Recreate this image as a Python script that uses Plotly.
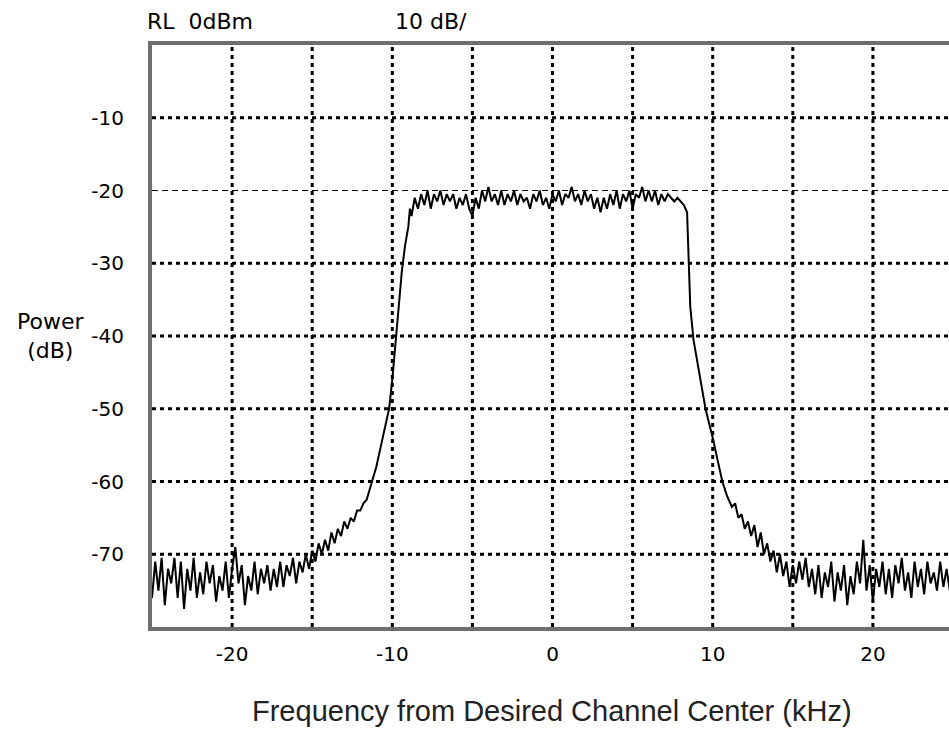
import plotly.graph_objects as go

# ---------------- data ----------------
# Left noise floor, -25.0 .. -15.0 kHz, 0.2 kHz steps
floor_left_start = -25.0
floor_left_db = [-76, -71, -75, -70.5, -77, -72, -74, -70.5, -76, -71,
                 -77.5, -72, -75, -70.5, -76, -72.5, -75.5, -71, -74, -71.5,
                 -76.5, -73, -75, -71, -76, -72, -69, -74, -71.5, -77,
                 -73, -75, -71, -75.5, -72, -74, -71.5, -75, -72, -74.5,
                 -71, -74.5, -71.5, -73, -70.5, -74, -71, -72.5, -70, -72,
                 -69.5]
# Left shoulder (noisy rise), -14.8 .. -11.6 kHz
rise_left_start = -14.8
rise_left_db = [-71, -68.5, -70, -68, -69.5, -67, -68.5, -66.5, -67.5, -65.5,
                -66.5, -65, -65.5, -64, -64, -63, -62.5]
# Left skirt (smooth filter edge)
skirt_left_khz = [-11.4, -11.2, -11.0, -10.8, -10.6, -10.4, -10.2, -10.0,
                  -9.8, -9.6, -9.4, -9.2, -9.0, -8.9]
skirt_left_db = [-61, -59.5, -58, -56, -54, -52, -50, -46,
                 -41, -35.5, -31, -27.5, -25, -22.5]
# Passband, -8.8 .. 8.2 kHz
band_start = -8.8
band_db = [-23.5, -21, -22.5, -20.5, -22, -20, -22.5, -20.5, -21.5, -20,
           -22, -20.5, -21.5, -20.5, -22.5, -21, -22, -20.5, -22.5, -23.5,
           -21, -22.5, -20, -21.5, -19.5, -21.5, -20.5, -22, -20, -22,
           -20.5, -21.5, -20, -22, -20.5, -21.5, -21, -22.5, -20.5, -21.5,
           -20, -22, -21, -22.5, -20.5,
           -21.5, -20, -22, -20.5, -21,
           -19.5, -21.5, -20.5, -22, -20,
           -21.5, -20.5, -22.5, -21, -23,
           -21, -22.5, -20.5, -22, -20,
           -22.5, -20.5, -21.5, -20, -22.5,
           -20.5, -21, -19.5, -21.5, -20,
           -21.5, -20, -22, -20.5, -21.5,
           -20.5, -21, -21.5, -21, -21.5, -22]
# Right skirt
skirt_right_khz = [8.4, 8.5, 8.6, 8.8, 9.0, 9.25, 9.55, 10.0, 10.3, 10.6, 10.9]
skirt_right_db = [-23, -30, -36, -40.5, -43, -46, -50, -54, -57, -60, -62]
# Right shoulder (noisy decay), 11.2 .. 15.0 kHz
decay_right_start = 11.2
decay_right_db = [-63.5, -63, -65, -64.5, -66.5, -65.5, -67.5, -66, -69, -67,
                  -70, -68.5, -71, -69.5, -72.5, -70, -73, -71, -74.5, -71.5]
# Right noise floor, 15.2 .. 25.0 kHz
floor_right_start = 15.2
floor_right_db = [-74, -71, -73.5, -70.5, -74.5, -72, -75.5, -71.5, -76, -72.5,
                  -74.5, -71, -76.5, -72.5, -75, -71.5, -77, -73, -75.5, -71,
                  -74, -68, -75, -71.5, -76.5, -72, -74.5, -71, -75.5, -72,
                  -76, -71.5, -74, -70.5, -75, -72.5, -76, -71, -74.5, -72,
                  -75.5, -71, -74, -72.5, -75, -71, -74.5, -72, -75, -73]

x_tick_vals = [-20, -10, 0, 10, 20]
x_tick_text = ["-20", "-10", "0", "10", "20"]
x_grid_vals = [-20, -15, -10, -5, 0, 5, 10, 15, 20]
y_tick_vals = [-70, -60, -50, -40, -30, -20, -10]
y_tick_text = ["-70", "-60", "-50", "-40", "-30", "-20", "-10"]
x_range = [-25, 24.75]
y_range = [-80, 0]

STEP = 0.2


def grid(start, values):
    return [round(start + STEP * i, 2) for i in range(len(values))]


freq = (grid(floor_left_start, floor_left_db) + grid(rise_left_start, rise_left_db)
        + skirt_left_khz + grid(band_start, band_db) + skirt_right_khz
        + grid(decay_right_start, decay_right_db) + grid(floor_right_start, floor_right_db))
power = (floor_left_db + rise_left_db + skirt_left_db + band_db + skirt_right_db
         + decay_right_db + floor_right_db)

fig = go.Figure()
fig.add_trace(go.Scatter(x=freq, y=power, mode="lines",
                         line=dict(color="black", width=2), hoverinfo="skip",
                         showlegend=False))

shapes = []
for v in x_grid_vals:
    shapes.append(dict(type="line", xref="x", yref="paper", x0=v, x1=v, y0=0, y1=1,
                       layer="below", line=dict(color="black", width=3, dash="4px,4px")))
for v in y_tick_vals:
    thin = v == -20
    shapes.append(dict(type="line", xref="paper", yref="y", x0=0, x1=1, y0=v, y1=v,
                       layer="below",
                       line=dict(color="black", width=1 if thin else 3,
                                 dash="6px,4px" if thin else "4px,4px")))

tick_font = dict(family="DejaVu Sans", size=20, color="black")
label_font = dict(family="DejaVu Sans", size=22, color="black")

fig.update_layout(
    width=949, height=732,
    margin=dict(l=152, r=0, t=45, b=105, pad=0),
    paper_bgcolor="white", plot_bgcolor="white",
    shapes=shapes,
    xaxis=dict(range=x_range, tickvals=x_tick_vals, ticktext=x_tick_text,
               showgrid=False, zeroline=False, showline=True, mirror=True,
               linecolor="#6e6e6e", linewidth=4, ticks="", tickfont=tick_font,
               ticklabelstandoff=6),
    yaxis=dict(range=y_range, tickvals=y_tick_vals, ticktext=y_tick_text,
               showgrid=False, zeroline=False, showline=True, mirror=False,
               linecolor="#6e6e6e", linewidth=4, ticks="", tickfont=tick_font,
               ticklabelstandoff=20),
    annotations=[
        dict(text="RL\u00a0\u00a00dBm", xref="paper", yref="paper",
             x=-0.009, y=1 + (45 - 21.5) / 582, xanchor="left", yanchor="middle",
             showarrow=False, font=label_font),
        dict(text="10 dB/", xref="paper", yref="paper",
             x=(393 - 152) / 797, y=1 + (45 - 21.5) / 582, xanchor="left",
             yanchor="middle", showarrow=False, font=label_font),
        dict(text="Power<br>(dB)", xref="paper", yref="paper",
             x=(50 - 152) / 797, y=(627 - 336) / 582, xanchor="center",
             yanchor="middle", showarrow=False, align="center", font=label_font),
        dict(text="Frequency from Desired Channel Center (kHz)", xref="paper",
             yref="paper", x=(552 - 152) / 797, y=(627 - 711) / 582, xanchor="center",
             yanchor="middle", showarrow=False,
             font=dict(family="Liberation Sans", size=29, color="#222222")),
    ],
)

fig.write_html("out.html", config={"displayModeBar": False},
               post_script="document.body.style.margin='0px';")
